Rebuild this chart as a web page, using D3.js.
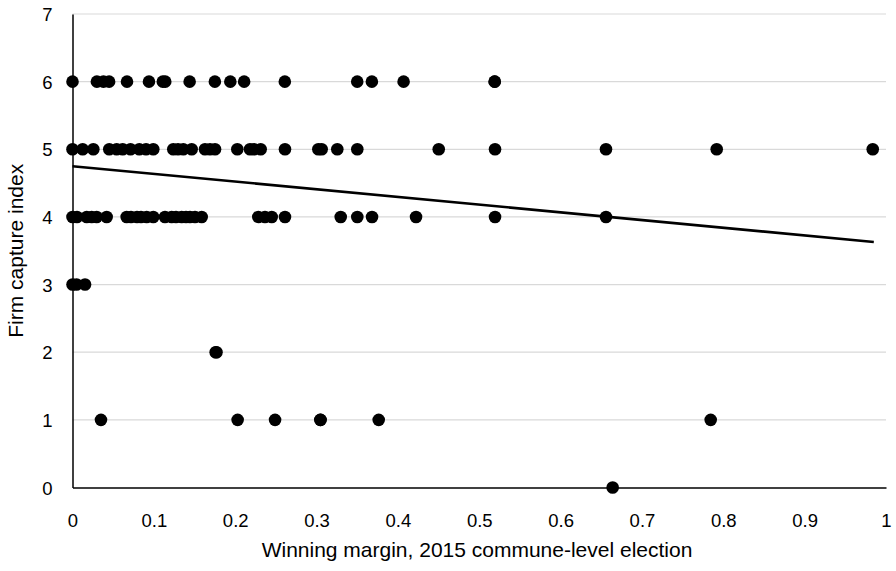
<!DOCTYPE html>
<html><head><meta charset="utf-8">
<script src="https://cdn.jsdelivr.net/npm/d3@7"></script>
<style>body{margin:0;background:#fff;}svg text{font-family:"Liberation Sans",Arial,sans-serif;fill:#000;}</style>
</head><body><svg id="c" width="896" height="571"></svg>
<script>
const row6 = [0.000,0.030,0.038,0.045,0.067,0.094,0.111,0.114,0.144,0.175,0.194,0.211,0.261,0.350,0.368,0.407,0.519,0.519];
const row5 = [0.000,0.0125,0.0256,0.0452,0.0543,0.0617,0.0713,0.0821,0.0904,0.0993,0.1239,0.1297,0.1362,0.1465,0.1629,0.1690,0.1752,0.2026,0.2182,0.2231,0.2313,0.2612,0.3022,0.3063,0.3255,0.3501,0.4502,0.5194,0.6558,0.7919,0.9837];
const row4 = [0.000,0.0055,0.0175,0.0236,0.0297,0.0420,0.0666,0.0719,0.0793,0.0842,0.0912,0.0993,0.1137,0.1219,0.1272,0.1342,0.1395,0.1444,0.1506,0.1588,0.2284,0.2366,0.2449,0.2612,0.3297,0.3501,0.3682,0.4223,0.5194,0.6558];
const row3 = [0.000,0.005,0.0154];
const row2 = [0.176,0.177];
const row1 = [0.035,0.203,0.249,0.3046,0.305,0.3764,0.7845];
const row0 = [0.664];
const trendLine = [{x:0,y:4.75},{x:0.985,y:3.63}];
const xTicks = [0,0.1,0.2,0.3,0.4,0.5,0.6,0.7,0.8,0.9,1];
const yTicks = [0,1,2,3,4,5,6,7];
const xTitle = "Winning margin, 2015 commune-level election";
const yTitle = "Firm capture index";

const points = [];
[[0,row0],[1,row1],[2,row2],[3,row3],[4,row4],[5,row5],[6,row6]].forEach(([y,arr])=>arr.forEach(x=>points.push({x,y})));

const svg = d3.select("#c");
const x = d3.scaleLinear().domain([0,1]).range([72.5,886]);
const y = d3.scaleLinear().domain([0,7]).range([487.5,14]);

// gridlines
svg.append("g").selectAll("line").data(yTicks.filter(d=>d>0)).join("line")
  .attr("x1",x(0)).attr("x2",x(1)).attr("y1",d=>y(d)).attr("y2",d=>y(d))
  .attr("stroke","#d9d9d9").attr("stroke-width",1.2);

// axes
const xa = svg.append("g").attr("transform",`translate(0,${y(0)})`)
  .call(d3.axisBottom(x).tickValues(xTicks).tickSize(0).tickPadding(39).tickFormat(d=>d===0?"0":d===1?"1":d3.format(".1f")(d)));
xa.select(".domain").attr("stroke","#000").attr("stroke-width",1.5);
xa.selectAll("text").attr("font-size",18.5).attr("dy","0");
const ya = svg.append("g").attr("transform",`translate(${x(0)},0)`)
  .call(d3.axisLeft(y).tickValues(yTicks).tickSize(0).tickPadding(20).tickFormat(d3.format("d")));
ya.select(".domain").attr("stroke","#000").attr("stroke-width",1.5);
ya.selectAll("text").attr("font-size",18.5).attr("dy","0.36em");

// points
svg.append("g").selectAll("circle").data(points).join("circle")
  .attr("cx",d=>x(d.x)).attr("cy",d=>y(d.y)).attr("r",6.3).attr("fill","#000");

// trend
svg.append("path").datum(trendLine)
  .attr("d",d3.line().x(d=>x(d.x)).y(d=>y(d.y)))
  .attr("stroke","#000").attr("stroke-width",2.6).attr("fill","none");

// titles
svg.append("text").attr("x",477).attr("y",557).attr("text-anchor","middle").attr("font-size",21).text(xTitle);
svg.append("text").attr("transform",`translate(22.5,${y(3.5)}) rotate(-90)`).attr("text-anchor","middle").attr("font-size",21).text(yTitle);
</script></body></html>
